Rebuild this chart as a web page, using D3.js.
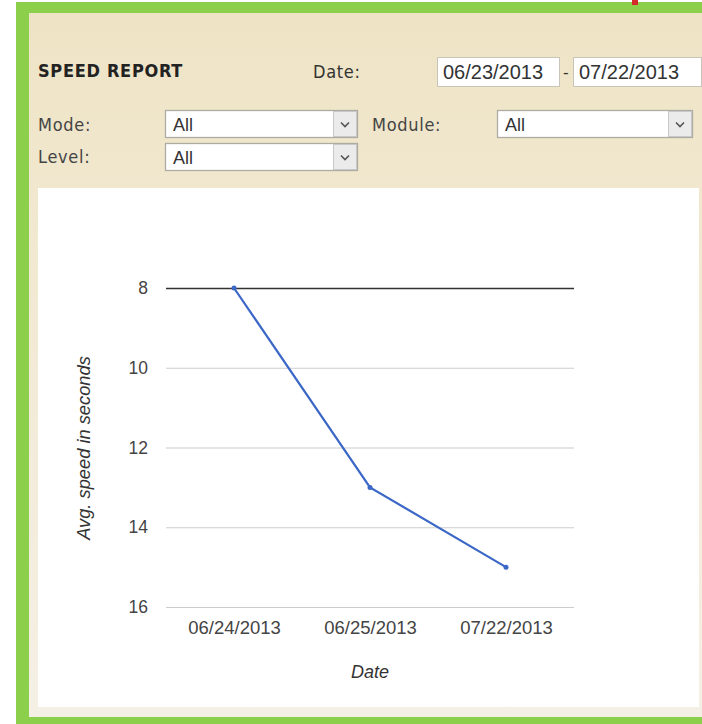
<!DOCTYPE html>
<html><head><meta charset="utf-8">
<script src="https://cdn.jsdelivr.net/npm/d3@7"></script>
<style>
html,body{margin:0;padding:0;background:#fff;}
svg{display:block;}
</style></head>
<body>
<svg id="c" width="702" height="724"></svg>
<script>
// ---- data ----
const categories = ["06/24/2013", "06/25/2013", "07/22/2013"];
const avgSpeed = [8, 13, 15];
const yTicks = [8, 10, 12, 14, 16];
const yDomain = [8, 16];
const title = "SPEED REPORT";
const dateFrom = "06/23/2013";
const dateTo = "07/22/2013";
const xTitle = "Date";
const yTitle = "Avg. speed in seconds";

const svg = d3.select("#c");
const defs = svg.append("defs");
const grad = defs.append("linearGradient").attr("id","bg").attr("x1",0).attr("y1",0).attr("x2",0).attr("y2",1);
grad.append("stop").attr("offset","0").attr("stop-color","#eee3c4");
grad.append("stop").attr("offset","0.3").attr("stop-color","#f1e8d0");
grad.append("stop").attr("offset","1").attr("stop-color","#f5f0e5");

// frame
svg.append("rect").attr("x",16).attr("y",2).attr("width",686).attr("height",722).attr("fill","#8ccf4b");
svg.append("rect").attr("x",29).attr("y",13).attr("width",673).attr("height",704).attr("fill","url(#bg)");
svg.append("rect").attr("x",632).attr("y",0).attr("width",6).attr("height",5).attr("fill","#d42a2a");
svg.append("rect").attr("x",38).attr("y",188).attr("width",661).attr("height",519).attr("fill","#ffffff");

const hdrFont = "'DejaVu Sans Condensed','DejaVu Sans',sans-serif";
const inFont = "'Liberation Sans',Arial,sans-serif";

function hdrText(x,y,t,bold,col){
  return svg.append("text").attr("x",x).attr("y",y).text(t)
    .attr("font-family",hdrFont).attr("font-weight",bold?"bold":"normal")
    .attr("font-size",18).attr("letter-spacing",0.7).attr("fill",col);
}
hdrText(38,77,title,true,"#222");
hdrText(313,78,"Date:",false,"#333");

function inputBox(x,y,w,h,txt){
  svg.append("rect").attr("x",x+0.5).attr("y",y+0.5).attr("width",w).attr("height",h)
    .attr("fill","#fff").attr("stroke","#c8c4b8");
  svg.append("text").attr("x",x+6).attr("y",y+h/2+7).text(txt)
    .attr("font-family",inFont).attr("font-size",20).attr("fill","#333");
}
inputBox(437,57,122,29,dateFrom);
svg.append("text").attr("x",563).attr("y",78).text("-").attr("font-family",inFont).attr("font-size",17).attr("fill","#333");
inputBox(573,57,128,29,dateTo);

function selectBox(x,y,w,h){
  svg.append("rect").attr("x",x+0.5).attr("y",y+0.5).attr("width",w).attr("height",h)
    .attr("fill","#fff").attr("stroke","#aeaba3").attr("stroke-width",1.3);
  svg.append("rect").attr("x",x+w-23.5).attr("y",y+1.5).attr("width",23).attr("height",h-2)
    .attr("fill","#ebebeb").attr("stroke","#c8c8c8");
  const cx = x+w-12, cy = y+h/2+1;
  svg.append("path").attr("d",`M${cx-4},${cy-2}L${cx},${cy+2}L${cx+4},${cy-2}`)
    .attr("fill","none").attr("stroke","#555").attr("stroke-width",1.6);
  svg.append("text").attr("x",x+8).attr("y",y+h/2+7).text("All")
    .attr("font-family",inFont).attr("font-size",18).attr("fill","#333");
}
hdrText(38,131,"Mode:",false,"#444");
selectBox(165,110,192,27);
hdrText(372,131,"Module:",false,"#444");
selectBox(497,110,195,27);
hdrText(38,163,"Level:",false,"#444");
selectBox(165,143,192,27);

// ---- chart ----
const x = d3.scalePoint().domain(categories).range([166,574]).padding(0.5);
const y = d3.scaleLinear().domain(yDomain).range([288,607]);
const g = svg.append("g");
const chartFont = inFont;

const yAxis = d3.axisLeft(y).tickValues(yTicks).tickSize(-(574-166)).tickPadding(18).tickFormat(d3.format("d"));
const ya = g.append("g").attr("transform","translate(166,0)").call(yAxis);
ya.select(".domain").remove();
ya.selectAll(".tick line").attr("stroke",d=>d===yDomain[0]?"#333":"#cccccc").attr("stroke-width",d=>d===yDomain[0]?1.5:1.2);
ya.selectAll(".tick text").attr("font-family",chartFont).attr("font-size",17.5).attr("fill","#444");

const xAxis = d3.axisBottom(x).tickSize(0).tickPadding(14);
const xa = g.append("g").attr("transform","translate(0,607)").call(xAxis);
xa.select(".domain").remove();
xa.selectAll(".tick text").attr("font-family",chartFont).attr("font-size",18.5).attr("fill","#444");

const data = categories.map((c,i)=>({c,v:avgSpeed[i]}));
g.append("path").datum(data)
  .attr("d",d3.line().x(d=>x(d.c)).y(d=>y(d.v)))
  .attr("fill","none").attr("stroke","#3b67c6").attr("stroke-width",2.2);
g.selectAll("circle.pt").data(data).join("circle").attr("class","pt")
  .attr("cx",d=>x(d.c)).attr("cy",d=>y(d.v)).attr("r",2.5).attr("fill","#3b67c6");

g.append("text").attr("x",370).attr("y",678).attr("text-anchor","middle").text(xTitle)
  .attr("font-family",chartFont).attr("font-style","italic").attr("font-size",18).attr("fill","#333");
g.append("text").attr("transform","translate(90,448) rotate(-90)").attr("text-anchor","middle").text(yTitle)
  .attr("font-family",chartFont).attr("font-style","italic").attr("font-size",18.3).attr("fill","#333");
</script>
</body></html>
